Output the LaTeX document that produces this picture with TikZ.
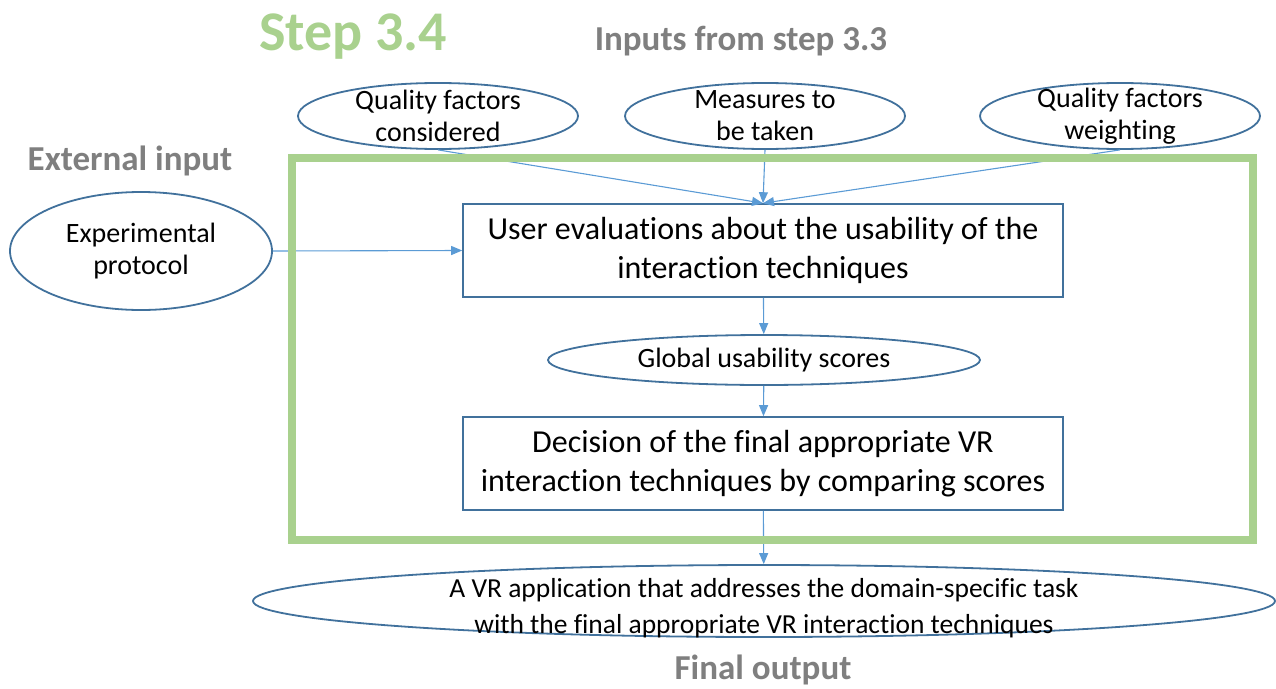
\documentclass[tikz,border=0pt]{standalone}
\usepackage{fontspec}
\setmainfont{Carlito}[RawFeature=-liga]
\usetikzlibrary{shapes.geometric,arrows.meta,positioning}
\definecolor{framegreen}{HTML}{A9D18E}
\definecolor{bordblue}{HTML}{41719C}
\definecolor{arrowblue}{HTML}{5B9BD5}
\definecolor{headgray}{HTML}{7F7F7F}

\begin{document}
\begin{tikzpicture}[x=1pt, y=-1pt,
    ext/.style={ellipse, draw=bordblue, line width=1.8pt, inner sep=0pt},
    proc/.style={draw=bordblue, rectangle, line width=1.6pt, minimum width=600pt, minimum height=93pt, align=center, font=\fontsize{32}{39}\selectfont},
    txt/.style={align=center, font=\fontsize{28}{32}\selectfont},
    head/.style={font=\fontsize{35}{40}\selectfont\bfseries, text=headgray},
    edge/.style={-{Triangle[length=11pt,width=9pt]}, line width=1.1pt, draw=arrowblue},
]
\useasboundingbox (0,0) rectangle (1276,688);

% Headings
\node[font=\fontsize{56}{60}\selectfont\bfseries, text=framegreen, anchor=base] (steptitle) at (353,50) {Step 3.4};
\node[head, anchor=base] (inhead) at (741,50) {Inputs from step 3.3};
\node[head, anchor=base] (exthead) at (130,170) {External input};
\node[head, anchor=base] (outhead) at (763,679) {Final output};

% Inputs from step 3.3
\node[ext, minimum width=280pt, minimum height=66pt, label={[txt]center:{Quality factors\\considered}}] (qfc) at (438,116) {};
\node[ext, minimum width=280pt, minimum height=66pt, label={[txt]center:{Measures to\\be taken}}] (meas) at (765,116) {};
\node[ext, minimum width=280pt, minimum height=66pt, label={[txt]center:{Quality factors\\weighting}}] (qfw) at (1120,116) {};

% External input
\node[ext, minimum width=262pt, minimum height=118pt, label={[txt]center:{Experimental\\protocol}}] (expprot) at (141,251) {};

% Step 3.4 body
\node[proc] (eval) at (763,250.5) {User evaluations about the usability of the\\interaction techniques};
\node[ext, minimum width=432pt, minimum height=50pt, label={[txt]center:{Global usability scores}}] (score) at (764,360) {};
\node[proc] (decide) at (763,463.5) {Decision of the final appropriate VR\\interaction techniques by comparing scores};

% Final output
\node[ext, minimum width=1022pt, minimum height=72pt, label={[txt, font=\fontsize{27.5}{36}\selectfont, yshift=-7pt]center:{A VR application that addresses the domain-specific task\\with the final appropriate VR interaction techniques}}] (final) at (764,601) {};

% Edges
\draw[edge] (qfc.south) -- (eval.north);
\draw[edge] (meas.south) -- (eval.north);
\draw[edge] (qfw.south) -- (eval.north);
\draw[edge] (expprot.east) -- (eval.west);
\draw[edge] (eval) -- (score);
\draw[edge] (score) -- (decide);
\draw[edge] (decide) -- (final);

% Step frame
\node[draw=framegreen, line width=8pt, minimum width=961pt, minimum height=382pt, inner sep=0pt] (stepframe) at (772.5,349) {};

\end{tikzpicture}
\end{document}
